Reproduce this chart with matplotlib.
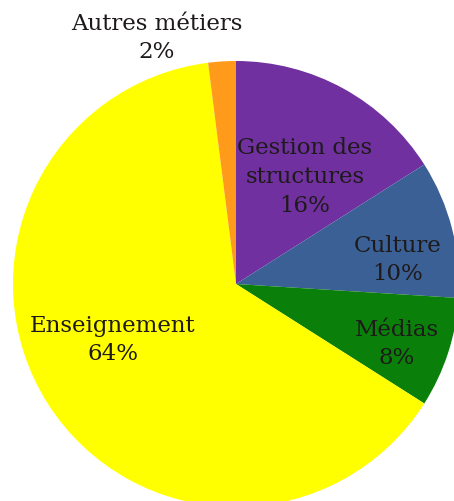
import matplotlib
matplotlib.use("Agg")
import matplotlib.pyplot as plt

# Répartition des métiers
categories = ["Gestion des\nstructures", "Culture", "Médias", "Enseignement", "Autres métiers"]
values = [16, 10, 8, 64, 2]
colors = ["#7030A0", "#3A6096", "#0A800A", "#FFFF00", "#FF9A1A"]

W, H = 454, 502
fig = plt.figure(figsize=(W / 100, H / 100), dpi=100)
ax = fig.add_axes([0, 0, 1, 1])

cx, cy, r = 236, H - 285, 223
wedges, _ = ax.pie(values, colors=colors, startangle=90, counterclock=False,
                   center=(cx, cy), radius=r, frame=True,
                   wedgeprops=dict(linewidth=0))
ax.set_xlim(0, W)
ax.set_ylim(0, H)
ax.set_aspect("equal")
ax.axis("off")

# label positions (pixel coordinates from the top-left)
label_pos = [(305, 177), (398, 260), (397, 344), (113, 340), (157, 38)]
for name, val, (x, y) in zip(categories, values, label_pos):
    ax.text(x, H - y, f"{name}\n{val}%", ha="center", va="center",
            fontsize=16.5, family="DejaVu Serif", color="#1e1a1a",
            linespacing=1.4)

fig.savefig("out.png", dpi=100, facecolor="white")
